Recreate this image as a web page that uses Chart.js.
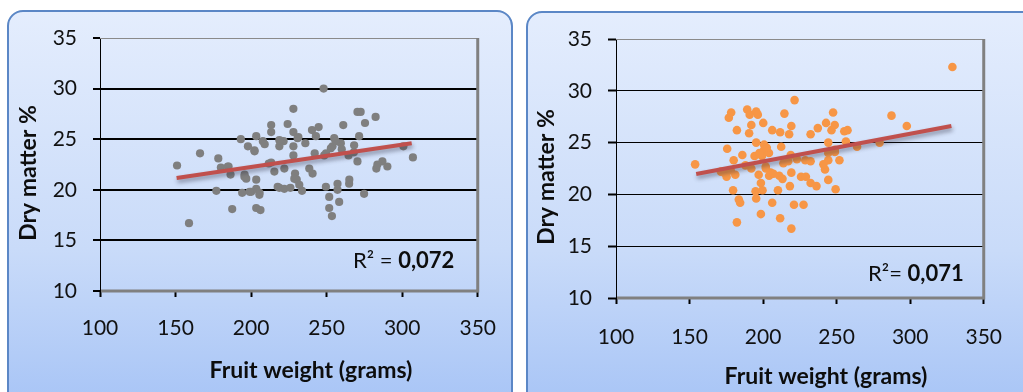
<!DOCTYPE html>
<html>
<head>
<meta charset="utf-8">
<script src="https://cdn.jsdelivr.net/npm/chart.js@4.4.1/dist/chart.umd.min.js"></script>
<style>
  html, body { margin: 0; padding: 0; background: #fff; width: 1023px; height: 392px; overflow: hidden; }
  .frame { position: absolute; box-sizing: border-box; border: 2px solid #5b87c6; border-radius: 16px;
           background: linear-gradient(to bottom, #e4edfd 0%, #c9dbf9 60%, #a7c4f6 100%); }
  #frame1 { left: 7px; top: 10px; width: 506px; height: 400px; }
  #frame2 { left: 526px; top: 11px; width: 520px; height: 400px; }
  canvas { position: absolute; top: 0; }
  #chart1 { left: 0; }
  #chart2 { left: 515px; }
</style>
</head>
<body>
<div class="frame" id="frame1"></div>
<div class="frame" id="frame2"></div>
<canvas id="chart1" width="515" height="392"></canvas>
<canvas id="chart2" width="508" height="392"></canvas>
<script>
// left chart: fruit weight (g) vs dry matter (%)
var leftWeight = [151.0,158.9,166.2,178.3,177.0,180.0,185.1,186.4,187.5,193.2,194.1,195.7,196.8,197.9,202.3,203.4,203.4,203.4,205.6,203.4,
  206.2,207.8,200.1,213.3,213.3,211.7,215.4,218.7,221.5,218.7,222.0,222.0,224.2,228.0,228.0,228.0,228.0,229.1,230.2,231.3,
  231.9,233.7,235.9,238.5,240.7,240.3,242.9,244.7,242.1,248.0,248.4,249.5,251.7,251.7,253.5,252.8,255.0,257.2,257.2,258.3,
  259.4,261.0,264.9,264.5,268.2,270.4,270.4,271.5,274.8,275.4,282.4,282.9,286.9,290.2,300.8,307.1,
  184.6,202.2,199.0,218.7,230.8,253.9,256.0,228.6,213.3,217.6,265.0,283.6,272.5,195.6,205.5,209.0,226.0,260.0,268.0,249.6];
var leftDry = [22.4,16.7,23.6,23.1,19.9,22.2,22.3,21.5,18.1,25.0,19.7,21.5,21.1,24.3,23.8,25.3,21.0,20.1,19.7,18.2,
  18.0,24.8,19.8,26.4,25.7,22.6,21.8,24.3,24.8,20.2,20.1,22.1,26.5,28.0,25.7,24.3,23.4,21.6,21.0,25.2,
  20.5,19.9,24.6,22.1,21.6,25.9,25.3,26.2,23.6,30.0,23.4,20.3,19.3,18.2,17.4,24.1,25.1,20.6,20.0,18.8,
  24.6,26.4,20.6,23.4,24.4,22.8,27.7,25.3,19.6,26.6,27.2,22.1,22.8,22.3,24.3,23.2,
  22.3,23.9,19.8,24.9,25.1,24.3,24.8,21.1,22.7,20.3,21.0,22.5,27.7,21.3,19.5,24.5,20.2,24.0,23.7,23.6];
var leftTrendX = [150.7, 306.3];
var leftTrendY = [21.17, 24.6];
var leftR2 = '0,072';

// right chart
var rightWeight = [153.8,175.6,176.7,178.3,180.0,181.1,182.2,179.6,183.5,182.2,173.5,171.3,175.2,185.9,189.2,190.9,192.0,190.5,192.0,195.3,
  196.4,195.3,194.2,194.9,195.3,197.0,199.2,200.1,200.7,200.7,201.8,198.5,199.6,198.5,204.0,205.1,206.2,206.2,210.1,211.0,
  211.6,211.6,212.3,214.5,213.8,217.1,217.7,219.2,218.8,219.2,218.2,219.2,221.4,221.0,227.5,225.8,229.1,228.7,232.3,232.3,
  232.3,236.3,237.2,242.8,242.1,244.3,244.3,244.3,244.3,246.5,247.6,248.7,249.3,248.7,251.9,255.2,257.4,256.3,263.9,279.2,
  287.3,297.7,328.7,
  201.9,204.1,184.4,207.0,213.2,223.0,248.8,241.0,202.5,197.5,178.0,188.0];
var rightDry = [22.9,24.4,27.4,27.9,23.3,21.9,26.2,20.4,19.5,17.3,22.1,22.2,21.7,23.8,28.2,27.7,26.7,25.9,22.5,28.0,
  27.7,25.0,23.7,20.3,19.6,21.9,23.7,26.9,24.8,24.3,22.7,21.1,20.4,18.1,24.0,22.1,26.2,19.2,20.4,21.8,
  26.0,17.7,24.6,27.8,23.0,23.2,25.8,26.6,23.8,22.1,20.8,16.7,29.1,19.0,19.0,21.7,21.7,23.3,23.2,25.8,
  21.1,20.8,26.4,26.9,22.4,25.0,24.0,23.3,21.4,26.2,27.9,26.7,20.5,24.3,23.3,26.1,26.2,25.1,24.6,25.0,
  27.6,26.6,32.3,
  22.5,21.8,19.2,22.0,21.5,23.4,24.1,22.9,24.5,24.0,22.3,22.8];
var rightTrendX = [154.5, 328.0];
var rightTrendY = [21.97, 26.6];
var rightR2 = '0,071';

var xTicks = { min: 100, max: 350, step: 50 };
var yTicks = { min: 10, max: 35, step: 5 };
var xTitle = 'Fruit weight (grams)';
var yTitle = 'Dry matter %';

function toPoints(xs, ys) {
  var pts = [];
  for (var i = 0; i < xs.length; i++) pts.push({ x: xs[i], y: ys[i] });
  return pts;
}

var FONT = 'Lato, "Open Sans", sans-serif';

var framePlugin = {
  id: 'frame',
  beforeDatasetsDraw: function(chart) {
    var a = chart.chartArea, ctx = chart.ctx;
    ctx.save();
    ctx.strokeStyle = '#8a8a8a';
    ctx.lineWidth = 1;
    ctx.beginPath(); ctx.moveTo(a.left, a.top + 0.5); ctx.lineTo(a.right, a.top + 0.5); ctx.stroke();
    ctx.strokeStyle = '#808080';
    ctx.lineWidth = 3;
    ctx.beginPath(); ctx.moveTo(a.right, a.top); ctx.lineTo(a.right, a.bottom + 1.5); ctx.stroke();
    ctx.beginPath(); ctx.moveTo(a.left + 1, a.bottom); ctx.lineTo(a.right, a.bottom); ctx.stroke();
    ctx.restore();
  },
  beforeDatasetDraw: function(chart, args) {
    if (args.meta.type === 'line') {
      var ctx = chart.ctx;
      ctx.save();
      ctx.shadowColor = 'rgba(40,40,60,0.45)';
      ctx.shadowBlur = 4;
      ctx.shadowOffsetX = 1;
      ctx.shadowOffsetY = 3;
    }
  },
  afterDatasetDraw: function(chart, args) {
    if (args.meta.type === 'line') chart.ctx.restore();
  },
  afterDatasetsDraw: function(chart) {
    var o = chart.options.plugins.frame, ctx = chart.ctx;
    ctx.save();
    ctx.fillStyle = '#0d0d0d';
    ctx.textBaseline = 'middle';
    ctx.textAlign = 'center';
    ctx.font = 'bold 23px ' + FONT;
    ctx.fillText(xTitle, o.xTitle.x, o.xTitle.y);
    ctx.save();
    ctx.translate(o.yTitle.x, o.yTitle.y);
    ctx.rotate(-Math.PI / 2);
    ctx.fillText(yTitle, 0, 0);
    ctx.restore();
    // R² label
    ctx.textAlign = 'left';
    ctx.font = '22px ' + FONT;
    ctx.fillText(o.r2Prefix, o.r2.x, o.r2.y);
    var w = ctx.measureText(o.r2Prefix).width;
    ctx.font = 'bold 22px ' + FONT;
    ctx.fillText(o.r2Text, o.r2.x + w, o.r2.y);
    ctx.restore();
  }
};

function buildChart(id, o) {
  var tickFont = { family: FONT, size: 21 };
  return new Chart(document.getElementById(id), {
    type: 'scatter',
    data: {
      datasets: [
        { type: 'line', label: 'trend', data: toPoints(o.trendX, o.trendY), borderColor: '#c0504d',
          borderWidth: 4, pointRadius: 0, fill: false, order: 0 },
        { label: 'points', data: toPoints(o.xs, o.ys), backgroundColor: o.color, borderWidth: 0,
          pointRadius: o.radius, order: 1 }
      ]
    },
    options: {
      responsive: false,
      animation: false,
      events: [],
      layout: { padding: { left: 0, top: o.area.top, right: o.width - o.area.right, bottom: 0 } },
      plugins: {
        legend: { display: false },
        tooltip: { enabled: false },
        frame: o.labels
      },
      scales: {
        x: {
          type: 'linear', min: xTicks.min, max: xTicks.max,
          ticks: { stepSize: xTicks.step, padding: o.xPad, font: tickFont, color: '#111', maxRotation: 0 },
          grid: { drawOnChartArea: false, tickLength: 6, tickWidth: 2, tickColor: '#000' },
          border: { display: false },
          afterFit: function(s) { s.height = 392 - o.area.bottom; }
        },
        y: {
          min: yTicks.min, max: yTicks.max,
          ticks: { stepSize: yTicks.step, padding: o.yPad, font: tickFont, color: '#111' },
          grid: {
            color: function(c) { return (c.tick && (c.tick.value === yTicks.min || c.tick.value === yTicks.max)) ? 'rgba(0,0,0,0)' : '#000'; },
            lineWidth: o.gridWidth, tickLength: o.yTickLen, tickWidth: 2, tickColor: '#000'
          },
          border: { display: true, color: '#000', width: 1 },
          afterFit: function(s) { s.width = o.area.left; }
        }
      }
    },
    plugins: [framePlugin]
  });
}

buildChart('chart1', {
  xs: leftWeight, ys: leftDry, trendX: leftTrendX, trendY: leftTrendY, color: '#7f7f7f', radius: 4.1,
  width: 515, area: { left: 100, right: 479, top: 38, bottom: 291 },
  gridWidth: 2, yTickLen: 7, yPad: 16, xPad: 19,
  labels: { xTitle: { x: 311, y: 371 }, yTitle: { x: 29, y: 173 }, r2: { x: 353, y: 261 }, r2Prefix: 'R² = ', r2Text: leftR2 }
});

buildChart('chart2', {
  xs: rightWeight, ys: rightDry, trendX: rightTrendX, trendY: rightTrendY, color: '#f79646', radius: 4.3,
  width: 508, area: { left: 101, right: 483, top: 39, bottom: 298 },
  gridWidth: 1, yTickLen: 8, yPad: 16, xPad: 21,
  labels: { xTitle: { x: 311, y: 377 }, yTitle: { x: 32, y: 177 }, r2: { x: 353, y: 274 }, r2Prefix: 'R²= ', r2Text: rightR2 }
});
</script>
</body>
</html>
